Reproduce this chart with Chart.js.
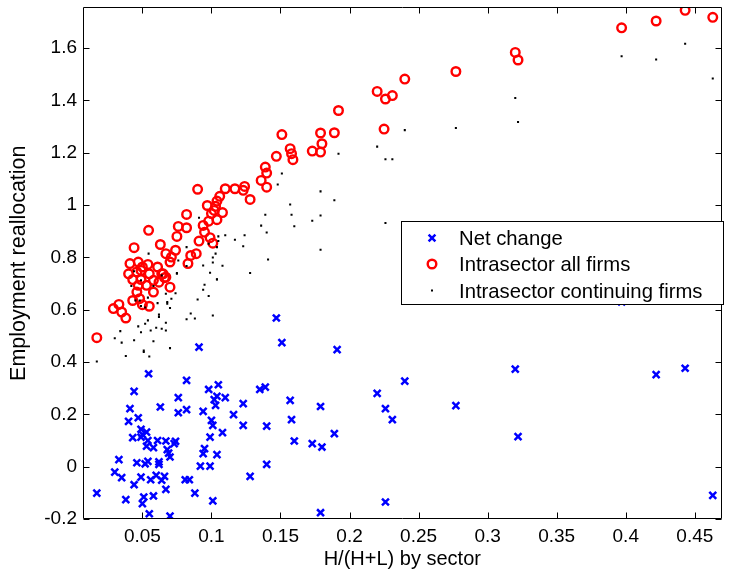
<!DOCTYPE html>
<html>
<head>
<meta charset="utf-8">
<script src="https://cdn.jsdelivr.net/npm/chart.js@4.4.1/dist/chart.umd.min.js"></script>
<style>
html,body{margin:0;padding:0;background:#fff;}
#c{display:block;}
</style>
</head>
<body>
<canvas id="c" width="729" height="569"></canvas>
<script>
// ---- Data ----
const seriesNames = ['Net change', 'Intrasector all firms', 'Intrasector continuing firms'];

const xNet = [0.220,0.226,0.231,0.240,0.226,0.277,0.320,0.322,0.397,0.422,0.443,0.463,
  0.147,0.151,0.191,0.091,0.098,0.105,0.102,0.104,0.110,0.103,0.135,0.139,0.123,0.116,0.157,0.179,
  0.094,0.100,0.101,0.123,0.140,0.158,0.108,0.099,0.160,0.173,0.180,0.189,0.095,0.094,0.104,0.092,
  0.099,0.140,0.128,0.101,0.179,
  0.0545,0.082,0.044,0.076,0.063,0.041,0.082,0.076,0.047,0.040,0.049,0.053,0.050,0.043,0.049,0.054,
  0.061,0.067,0.074,0.058,0.053,0.073,0.068,0.069,0.070,0.033,0.030,0.035,0.046,0.054,0.052,0.062,
  0.062,0.049,0.044,0.056,0.060,0.066,0.064,0.067,0.017,0.038,0.051,0.050,0.058,0.055,0.070,0.081,
  0.084,0.088];
const yNet = [0.280,0.222,0.180,0.327,-0.135,0.233,0.373,0.115,0.630,0.352,0.376,-0.110,
  0.568,0.474,0.447,0.457,0.295,0.313,0.256,0.269,0.264,0.234,0.295,0.304,0.241,0.199,0.253,0.230,
  0.211,0.177,0.158,0.158,0.155,0.180,0.130,0.113,0.098,0.088,0.075,0.126,0.069,0.050,0.046,0.002,
  0.002,0.009,-0.037,-0.131,-0.176,
  0.355,0.330,0.288,0.264,0.228,0.222,0.218,0.206,0.187,0.173,0.143,0.132,0.123,0.111,0.113,0.100,
  0.100,0.098,0.097,0.073,0.078,0.088,0.065,0.052,0.037,0.027,-0.021,-0.042,0.015,0.020,0.011,0.018,
  0.009,-0.040,-0.069,-0.050,-0.033,-0.037,-0.052,-0.087,-0.101,-0.126,-0.116,-0.141,-0.112,-0.180,-0.189,-0.050,
  -0.050,-0.101];

const xAll = [0.220,0.226,0.231,0.240,0.225,0.277,0.320,0.322,0.397,0.422,0.443,0.463,
  0.192,0.189,0.179,0.180,0.179,0.173,0.151,0.157,0.158,0.159,0.147,0.139,0.140,0.136,0.140,0.124,
  0.123,0.128,0.117,0.110,0.090,0.106,0.104,0.097,0.103,0.102,0.108,0.100,0.104,0.098,0.082,0.094,
  0.076,0.082,0.0545,0.095,0.075,0.099,0.091,0.101,0.063,0.044,0.074,0.067,0.089,0.085,0.071,0.070,
  0.083,0.054,0.061,0.050,0.041,0.047,0.040,0.046,0.049,0.055,0.064,0.066,0.043,0.049,0.058,0.062,
  0.070,0.047,0.053,0.058,0.046,0.048,0.043,0.050,0.055,0.029,0.033,0.035,0.038,0.017,0.067,0.065];
const yAll = [1.434,1.405,1.418,1.481,1.290,1.510,1.583,1.554,1.677,1.703,1.744,1.717,
  1.361,1.276,1.275,1.234,1.202,1.206,1.269,1.215,1.196,1.173,1.186,1.145,1.122,1.094,1.068,1.071,
  1.056,1.021,1.062,1.062,1.060,1.033,1.015,0.998,0.995,0.979,0.971,0.967,0.944,0.938,0.964,0.922,
  0.918,0.913,0.903,0.896,0.880,0.875,0.862,0.854,0.849,0.837,0.827,0.814,0.814,0.807,0.801,0.782,
  0.776,0.773,0.763,0.763,0.776,0.782,0.737,0.744,0.750,0.737,0.737,0.722,0.715,0.715,0.712,0.705,
  0.686,0.693,0.693,0.667,0.667,0.642,0.635,0.619,0.613,0.604,0.620,0.591,0.568,0.493,0.724,0.737];

const xCont = [0.220,0.226,0.231,0.240,0.226,0.277,0.320,0.322,0.397,0.422,0.443,0.463,
  0.192,0.151,0.148,0.179,0.189,0.157,0.158,0.139,0.179,0.173,0.136,0.160,0.140,0.179,0.141,0.128,
  0.124,0.123,0.117,0.110,0.105,0.105,0.098,0.104,0.103,0.101,0.101,0.108,0.094,0.099,0.104,0.091,
  0.082,0.082,0.076,0.075,0.0545,0.064,0.090,0.044,0.049,0.042,0.058,0.074,0.067,0.071,0.068,0.054,
  0.048,0.045,0.049,0.052,0.061,0.070,0.085,0.088,0.082,0.062,0.062,0.054,0.047,0.056,0.060,0.064,
  0.067,0.034,0.049,0.030,0.044,0.035,0.051,0.051,0.070,0.038,0.055,0.017,0.058,0.067,0.052,0.094,
  0.095,0.098,0.101,0.104,0.075,0.068];
const yCont = [1.223,1.175,1.175,1.286,0.931,1.294,1.409,1.317,1.568,1.556,1.616,1.483,
  1.196,1.120,1.078,1.052,1.018,1.002,0.963,0.963,0.960,0.940,0.921,0.919,0.895,0.829,0.792,0.740,
  0.884,0.842,0.867,0.884,0.880,0.862,0.852,0.839,0.814,0.799,0.780,0.768,0.769,0.741,0.716,0.951,
  0.839,0.767,0.788,0.740,0.814,0.731,0.639,0.747,0.712,0.690,0.690,0.663,0.661,0.642,0.623,0.646,
  0.635,0.635,0.614,0.608,0.625,0.606,0.585,0.566,0.563,0.581,0.572,0.559,0.536,0.520,0.531,0.527,
  0.520,0.518,0.514,0.491,0.483,0.474,0.444,0.438,0.453,0.423,0.421,0.402,0.479,0.550,0.546,0.676,
  0.695,0.652,0.578,0.715,0.737,0.629];

const xTicks = [0.05,0.1,0.15,0.2,0.25,0.3,0.35,0.4,0.45];
const xTickLabels = ['0.05','0.1','0.15','0.2','0.25','0.3','0.35','0.4','0.45'];
const yTicks = [-0.2,0,0.2,0.4,0.6,0.8,1,1.2,1.4,1.6];
const yTickLabels = ['-0.2','0','0.2','0.4','0.6','0.8','1','1.2','1.4','1.6'];
const xLimits = [0.007, 0.4694];
const yLimits = [-0.2, 1.755];
const xTitle = 'H/(H+L) by sector';
const yTitle = 'Employment reallocation';

// ---- Build ----
function pts(xs, ys){ return xs.map((x,i)=>({x:x, y:ys[i]})); }
const FONT = "'Liberation Sans', Arial, Helvetica, sans-serif";
const BLUE = 'rgb(0,0,255)', RED = 'rgb(255,0,0)', BLACK = '#000';

const frame = {
  id: 'frame',
  afterDraw(chart){
    const ctx = chart.ctx, a = chart.chartArea;
    const xs = chart.scales.x, ys = chart.scales.y;
    ctx.save();
    ctx.strokeStyle = '#000';
    ctx.lineWidth = 1;
    const L = Math.round(a.left)+0.5, R = Math.round(a.right)-0.5, T = Math.round(a.top)+0.5, B = Math.round(a.bottom)-0.5;
    ctx.beginPath();
    ctx.rect(L, T, R-L, B-T);
    const tl = 6;
    xTicks.forEach(v=>{
      const p = Math.round(xs.getPixelForValue(v))+0.5;
      ctx.moveTo(p, B); ctx.lineTo(p, B-tl);
      ctx.moveTo(p, T); ctx.lineTo(p, T+tl);
    });
    yTicks.forEach(v=>{
      const p = Math.round(ys.getPixelForValue(v))+0.5;
      ctx.moveTo(L, p); ctx.lineTo(L+tl, p);
      ctx.moveTo(R, p); ctx.lineTo(R-tl, p);
    });
    ctx.stroke();

    // legend box
    const bx = 401.5, by = 221.5, bw = 322, bh = 83;
    ctx.fillStyle = '#fff';
    ctx.fillRect(bx, by, bw, bh);
    ctx.strokeRect(bx, by, bw, bh);
    const mx = 432, tx = 459;
    const rows = [245, 271, 297.5];
    let cy = rows[0]-7;
    ctx.strokeStyle = BLUE; ctx.lineWidth = 2.5;
    ctx.beginPath();
    ctx.moveTo(mx-3.4, cy-3.4); ctx.lineTo(mx+3.4, cy+3.4);
    ctx.moveTo(mx-3.4, cy+3.4); ctx.lineTo(mx+3.4, cy-3.4);
    ctx.stroke();
    cy = rows[1]-7;
    ctx.strokeStyle = RED; ctx.lineWidth = 2.4;
    ctx.beginPath(); ctx.arc(mx, cy, 4.3, 0, Math.PI*2); ctx.stroke();
    cy = rows[2]-7;
    ctx.fillStyle = BLACK;
    ctx.fillRect(mx-1, cy-1, 2, 2);
    ctx.fillStyle = '#000';
    ctx.font = '20.3px ' + FONT;
    ctx.textAlign = 'left';
    ctx.textBaseline = 'alphabetic';
    seriesNames.forEach((n,i)=>ctx.fillText(n, tx, rows[i]));
    ctx.restore();
  }
};

new Chart(document.getElementById('c'), {
  type: 'scatter',
  data: {
    datasets: [
      { label: seriesNames[0], data: pts(xNet, yNet), pointStyle: 'crossRot', pointRadius: 4.9,
        borderColor: BLUE, backgroundColor: BLUE, pointBorderWidth: 2.5, order: 2 },
      { label: seriesNames[1], data: pts(xAll, yAll), pointStyle: 'circle', pointRadius: 4.3,
        borderColor: RED, backgroundColor: 'rgba(0,0,0,0)', pointBorderWidth: 2.4, order: 1 },
      { label: seriesNames[2], data: pts(xCont, yCont), pointStyle: 'rect', pointRadius: 1.45,
        borderColor: BLACK, backgroundColor: BLACK, pointBorderWidth: 0, order: 0 }
    ]
  },
  options: {
    responsive: false,
    animation: false,
    devicePixelRatio: 1,
    events: [],
    layout: { padding: { top: 7, right: 3, left: 0, bottom: 0 } },
    plugins: { legend: { display: false }, tooltip: { enabled: false } },
    scales: {
      x: {
        type: 'linear', min: xLimits[0], max: xLimits[1],
        afterBuildTicks: s => { s.ticks = xTicks.map(v => ({ value: v })); },
        afterFit: s => { s.height = 50; s.paddingLeft = 0; s.paddingRight = 0; s.paddingTop = 0; s.paddingBottom = 0; },
        grid: { display: false, drawTicks: false },
        border: { display: false },
        ticks: {
          color: '#000', padding: 8, maxRotation: 0, autoSkip: false,
          font: { family: FONT, size: 19, lineHeight: 1 },
          callback: (v, i) => xTickLabels[i]
        },
        title: { display: true, text: xTitle, color: '#000', padding: 0,
          font: { family: FONT, size: 20, lineHeight: 1 } }
      },
      y: {
        type: 'linear', min: yLimits[0], max: yLimits[1],
        afterBuildTicks: s => { s.ticks = yTicks.map(v => ({ value: v })); },
        afterFit: s => { s.width = 83; s.paddingLeft = 0; s.paddingRight = 0; s.paddingTop = 0; s.paddingBottom = 0; },
        grid: { display: false, drawTicks: false },
        border: { display: false },
        ticks: {
          color: '#000', padding: 6, autoSkip: false,
          font: { family: FONT, size: 19, lineHeight: 1 },
          callback: (v, i) => yTickLabels[i]
        },
        title: { display: true, text: yTitle, color: '#000', padding: { top: 8, bottom: 0 },
          font: { family: FONT, size: 21.5, lineHeight: 1 } }
      }
    }
  },
  plugins: [frame]
});
</script>
</body>
</html>
